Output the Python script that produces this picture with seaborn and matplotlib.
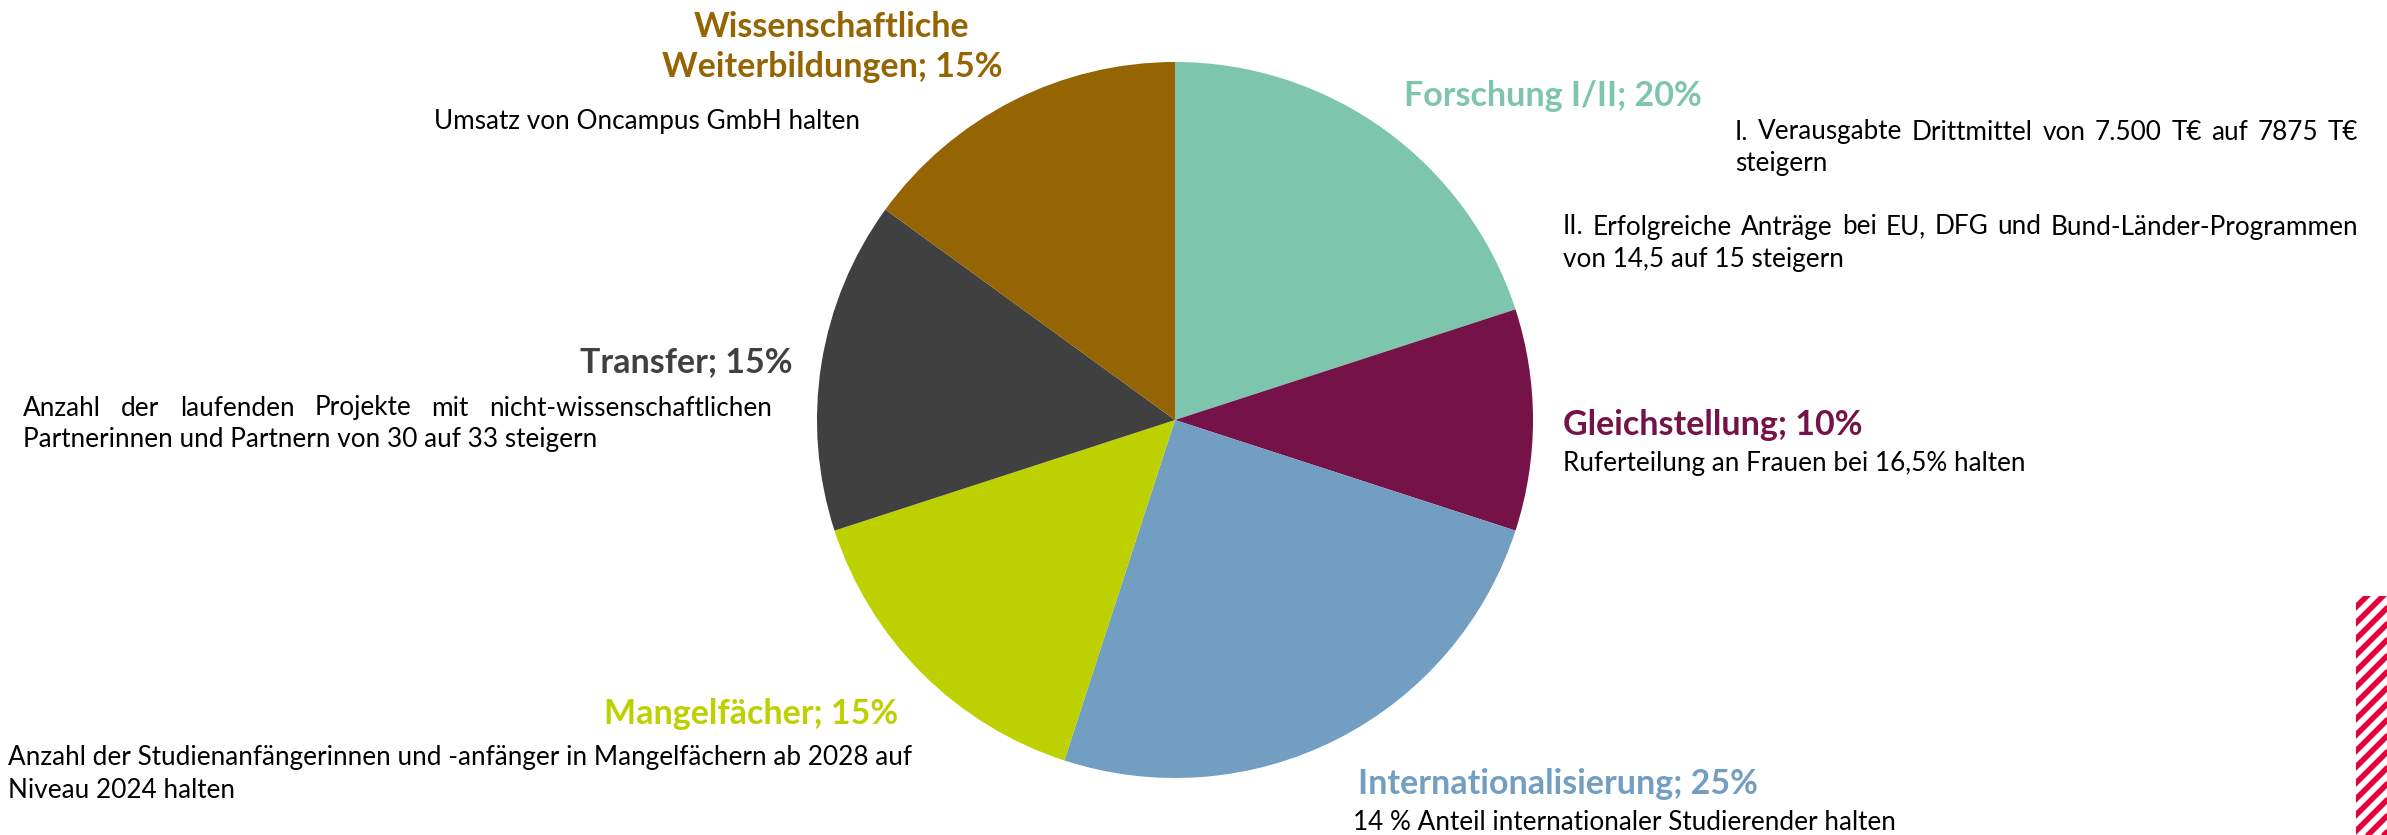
import matplotlib.pyplot as plt
import seaborn as sns
import numpy as np
from matplotlib.patches import Rectangle

W, H = 2387, 835

labels = ["Forschung I/II", "Gleichstellung", "Internationalisierung",
          "Mangelfächer", "Transfer", "Wissenschaftliche\nWeiterbildungen"]
shares = [20, 10, 25, 15, 15, 15]
colors = ["#7DC5AD", "#751247", "#729EC1", "#BDD000", "#404040", "#956504"]

notes = {
    "Forschung I/II": [
        ["I. Verausgabte Drittmittel von 7.500 T€ auf 7875 T€", "steigern"],
        ["II. Erfolgreiche Anträge bei EU, DFG und Bund-Länder-Programmen",
         "von 14,5 auf 15 steigern"],
    ],
    "Gleichstellung": [["Ruferteilung an Frauen bei 16,5% halten"]],
    "Internationalisierung": [["14 % Anteil internationaler Studierender halten"]],
    "Mangelfächer": [["Anzahl der Studienanfängerinnen und -anfänger in Mangelfächern ab 2028 auf",
                      "Niveau 2024 halten"]],
    "Transfer": [["Anzahl der laufenden Projekte mit nicht-wissenschaftlichen",
                  "Partnerinnen und Partnern von 30 auf 33 steigern"]],
    "Wissenschaftliche\nWeiterbildungen": [["Umsatz von Oncampus GmbH halten"]],
}

sns.set_style("white")
plt.rcParams['font.family'] = ['Lato', 'DejaVu Sans']

fig = plt.figure(figsize=(W / 100, H / 100), dpi=100)
ax = fig.add_axes([0, 0, 1, 1])

ax.pie(shares, colors=colors, startangle=90, counterclock=False,
       center=(1175, H - 420), radius=358, wedgeprops=dict(linewidth=0))
ax.set_xlim(0, W)
ax.set_ylim(0, H)
ax.set_aspect('equal')
ax.axis('off')

title_size = 24.5
body_size = 18.8
renderer = fig.canvas.get_renderer()


def put(x, y, s, **kw):
    return ax.text(x, H - y, s, va='center', **kw)


def justify(x0, x1, y, s, **kw):
    words = s.split()
    arts = [put(x0, y, w, **kw) for w in words]
    widths = [a.get_window_extent(renderer).width for a in arts]
    gap = (x1 - x0 - sum(widths)) / max(len(words) - 1, 1)
    x = x0
    for a, w in zip(arts, widths):
        a.set_x(x)
        x += w + gap


# titles: (x, y, ha)
title_pos = {
    "Forschung I/II": (1404, 96, 'left'),
    "Gleichstellung": (1563, 425, 'left'),
    "Internationalisierung": (1358, 784, 'left'),
    "Mangelfächer": (898, 714, 'right'),
    "Transfer": (792, 362, 'right'),
    "Wissenschaftliche\nWeiterbildungen": (832, 47, 'center'),
}
for lab, share, col in zip(labels, shares, colors):
    x, y, ha = title_pos[lab]
    put(x, y, f"{lab}; {share}%", ha=ha, color=col, fontsize=title_size,
        fontweight='bold', linespacing=1.32, multialignment='center')

# body text blocks: label -> list of (x0, x1, y) per paragraph
body_pos = {
    "Forschung I/II": [(1735, 2358, 132), (1563, 2358, 227)],
    "Gleichstellung": [(1563, None, 464)],
    "Internationalisierung": [(1353, None, 823)],
    "Mangelfächer": [(8, None, 758)],
    "Transfer": [(23, 772, 408)],
    "Wissenschaftliche\nWeiterbildungen": [(434, None, 122)],
}
line_gap = 32
for lab in labels:
    for (x0, x1, y), lines in zip(body_pos[lab], notes[lab]):
        for i, line in enumerate(lines):
            yy = y + i * line_gap
            if x1 is not None and i < len(lines) - 1:
                justify(x0, x1, yy, line, fontsize=body_size, color='black')
            else:
                put(x0, yy, line, fontsize=body_size, color='black')

# decorative striped bar at the right edge
bar = Rectangle((2356, 0), W - 2356, H - 596, facecolor='white', linewidth=0)
ax.add_patch(bar)
for c in np.arange(-60, H - 596 + 60, 16):
    ln, = ax.plot([2340, 2400], [c, c + 60], color='#E4003A', lw=4,
                  solid_capstyle='butt')
    ln.set_clip_path(bar)

fig.savefig("out.png", dpi=100)
